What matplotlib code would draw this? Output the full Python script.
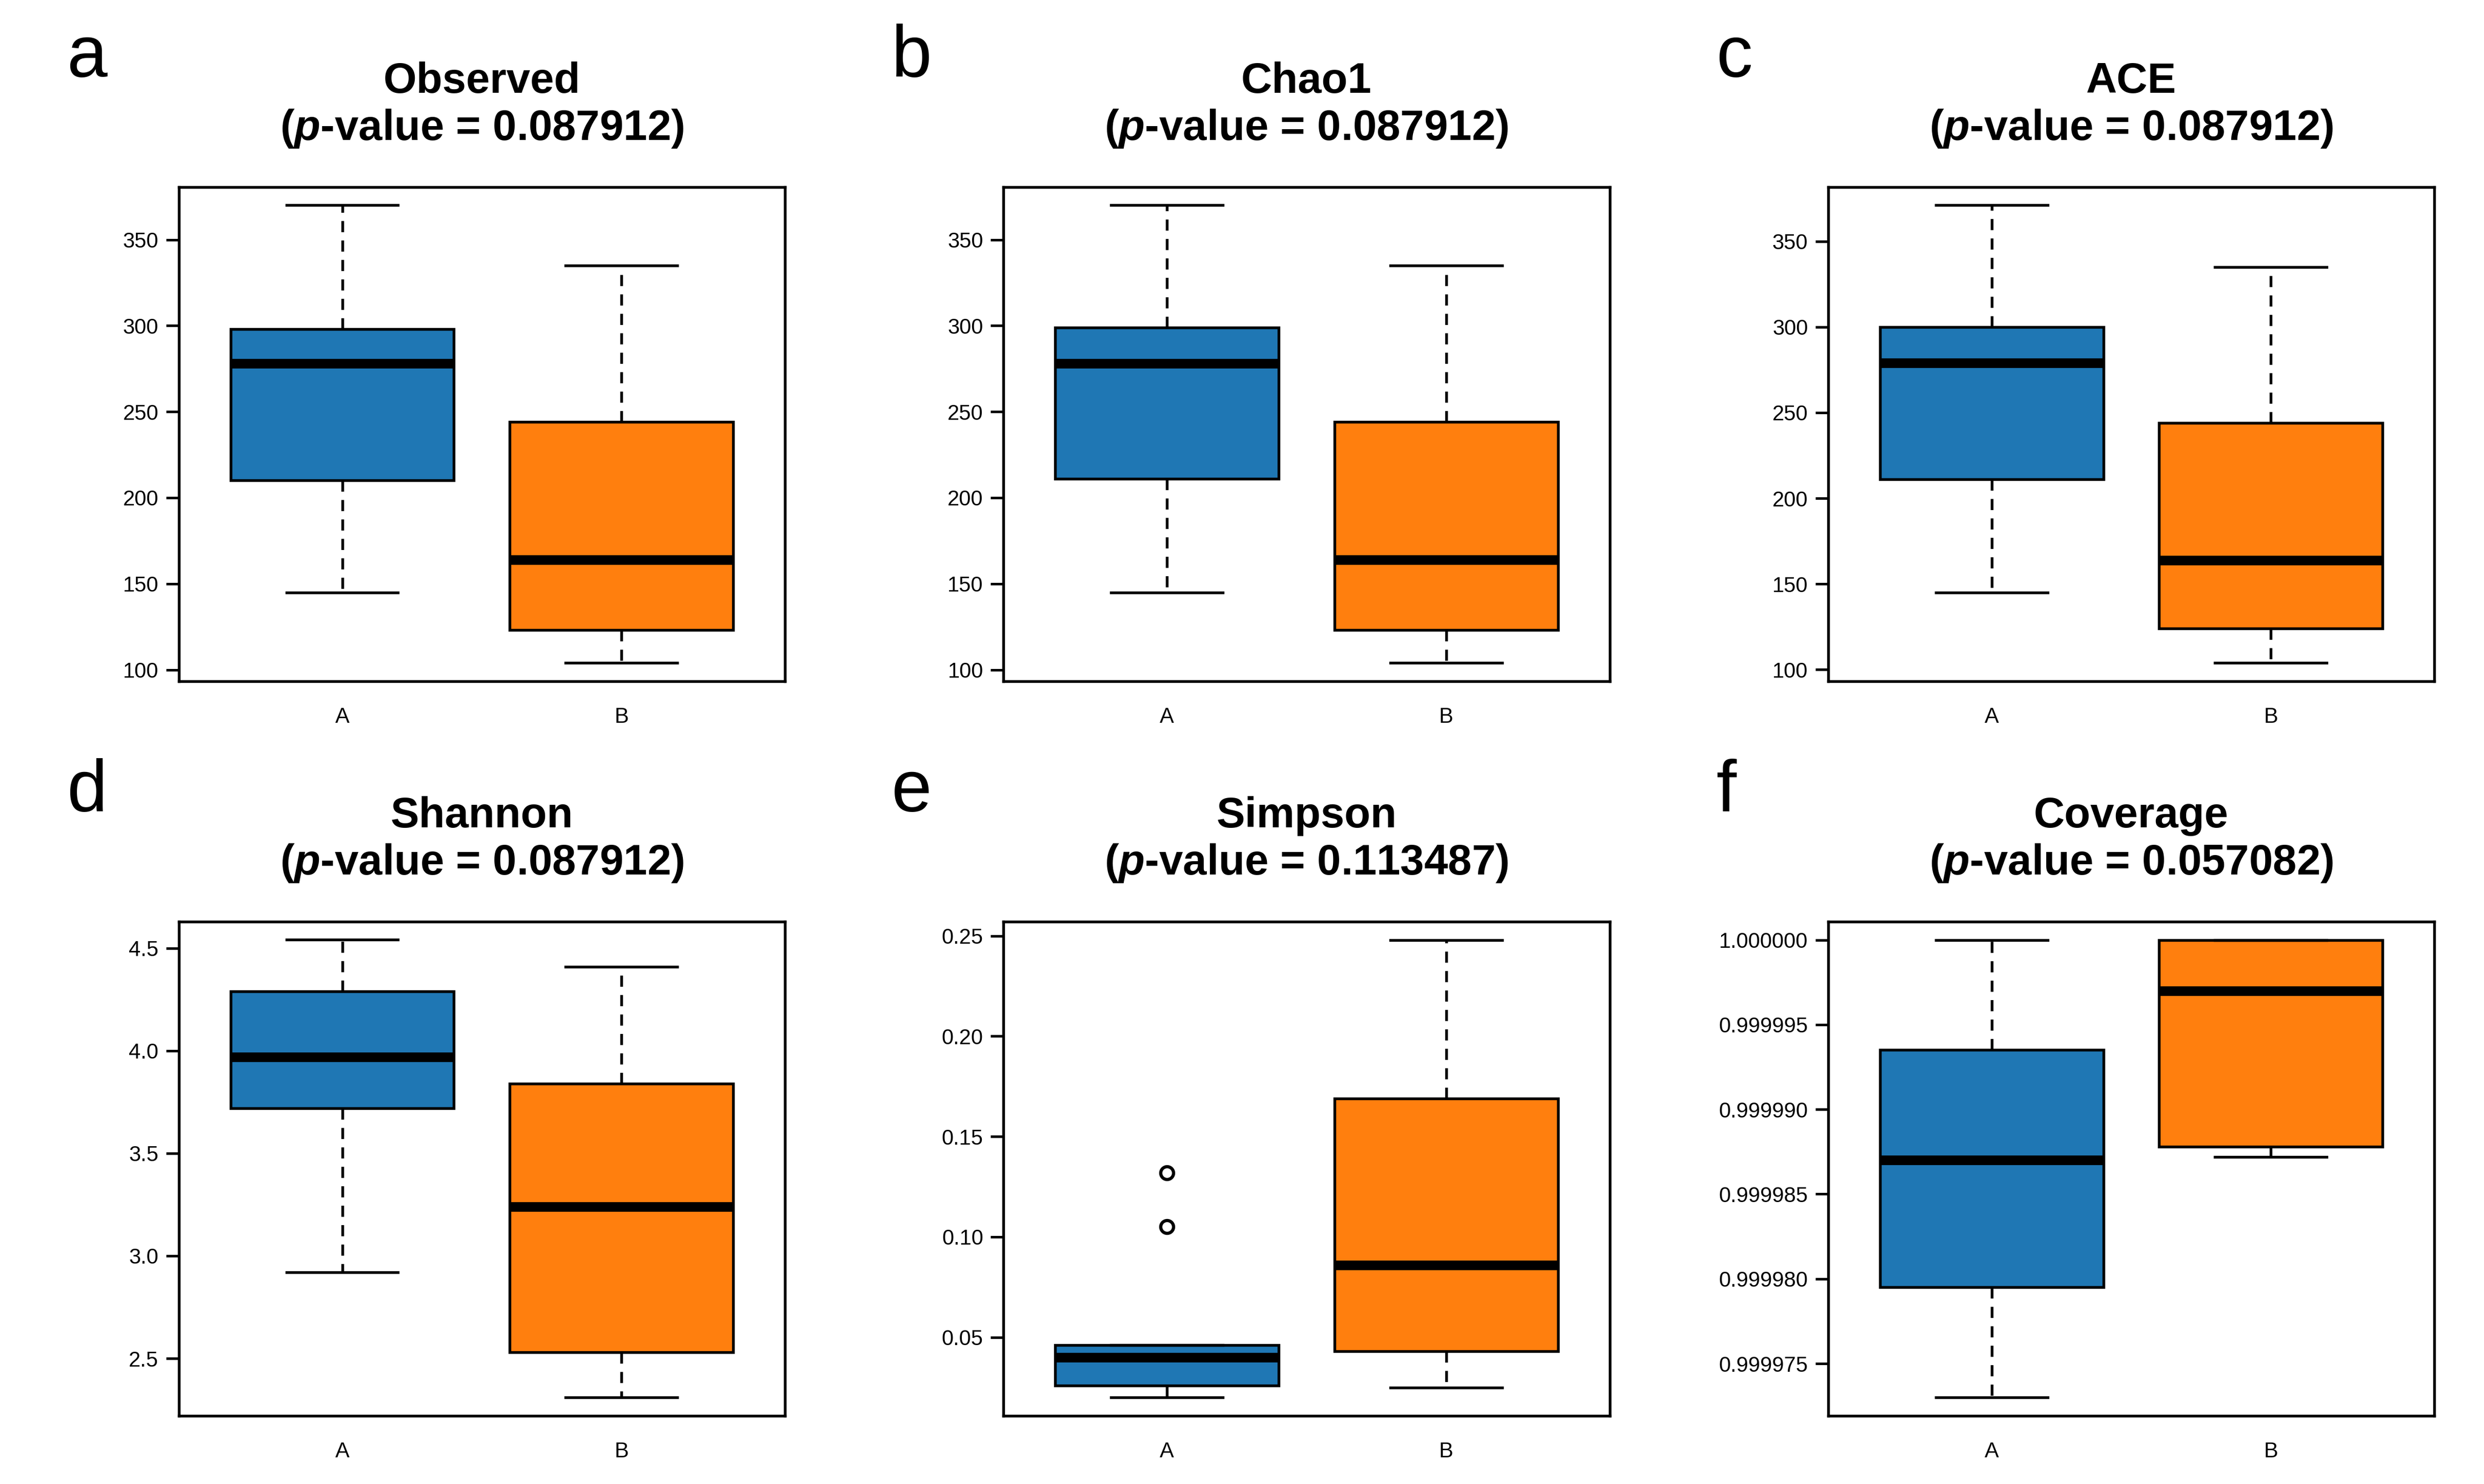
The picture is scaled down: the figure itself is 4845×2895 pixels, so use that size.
import matplotlib.pyplot as plt
import matplotlib.ticker as mticker

plt.rcParams['font.family'] = ['Liberation Sans', 'DejaVu Sans']
plt.rcParams['mathtext.fontset'] = 'custom'
plt.rcParams['mathtext.bf'] = 'Liberation Sans:bold'
plt.rcParams['mathtext.bfit'] = 'Liberation Sans:bold:italic'

groups = ['A', 'B']
colors = ['#1f77b4', '#ff7f0e']
titles = ['Observed', 'Chao1', 'ACE', 'Shannon', 'Simpson', 'Coverage']
letters = ['a', 'b', 'c', 'd', 'e', 'f']
pvalues = ['0.087912', '0.087912', '0.087912', '0.087912', '0.113487', '0.057082']

# whislo, q1, med, q3, whishi per group
observed = [[145, 210, 278, 298, 370], [104, 123, 164, 244, 335]]
chao1 = [[145, 211, 278, 299, 370], [104, 123, 164, 244, 335]]
ace = [[145, 211, 279, 300, 371], [104, 124, 164, 244, 335]]
shannon = [[2.92, 3.72, 3.97, 4.29, 4.54], [2.31, 2.53, 3.24, 3.84, 4.41]]
simpson = [[0.020, 0.026, 0.040, 0.046, 0.046], [0.025, 0.043, 0.086, 0.169, 0.248]]
coverage = [[0.999973, 0.9999795, 0.999987, 0.9999935, 1.0],
            [0.9999872, 0.9999878, 0.999997, 1.0, 1.0]]
fliers = [[[], []], [[], []], [[], []], [[], []], [[0.105, 0.132], []], [[], []]]

all_data = [observed, chao1, ace, shannon, simpson, coverage]
yticks = [[100, 150, 200, 250, 300, 350]] * 3 + [
    [2.5, 3.0, 3.5, 4.0, 4.5],
    [0.05, 0.10, 0.15, 0.20, 0.25],
    [0.999975, 0.999980, 0.999985, 0.999990, 0.999995, 1.0]]
fmts = ['%d'] * 3 + ['%.1f', '%.2f', '%.6f']

fig = plt.figure(figsize=(16.15, 9.65), dpi=300)
lefts = [0.072, 0.404, 0.736]
bottoms = [0.541, 0.046]

for i, data in enumerate(all_data):
    r, c = divmod(i, 3)
    ax = fig.add_axes([lefts[c], bottoms[r], 0.244, 0.333])
    stats = []
    for g, s in enumerate(data):
        stats.append(dict(whislo=s[0], q1=s[1], med=s[2], q3=s[3], whishi=s[4],
                          fliers=fliers[i][g], label=groups[g]))
    bp = ax.bxp(stats, positions=[1, 2], widths=0.8, patch_artist=True,
                boxprops=dict(linewidth=1.3, edgecolor='black'),
                medianprops=dict(color='black', linewidth=4.5, solid_capstyle='butt'),
                whiskerprops=dict(linestyle=(0, (4, 3)), linewidth=1.3),
                capprops=dict(linewidth=1.3),
                capwidths=0.4,
                flierprops=dict(marker='o', markerfacecolor='white',
                                markeredgecolor='black', markersize=6, markeredgewidth=1.5))
    for patch, col in zip(bp['boxes'], colors):
        patch.set_facecolor(col)
    lo = min(min(s[0] for s in data), min([min(f) for f in fliers[i] if f] or [1e9]))
    hi = max(max(s[4] for s in data), max([max(f) for f in fliers[i] if f] or [-1e9]))
    pad = (hi - lo) * 0.04
    ax.set_ylim(lo - pad, hi + pad)
    ax.set_xlim(0.415, 2.585)
    ax.set_yticks(yticks[i])
    ax.yaxis.set_major_formatter(mticker.FormatStrFormatter(fmts[i]))
    ax.tick_params(labelsize=10, width=1.2, length=6)
    ax.tick_params(axis='x', length=0, pad=12)
    for sp in ax.spines.values():
        sp.set_linewidth(1.3)
    ax.set_title(titles[i] + '\n(' + r'$\mathbfit{p}$' + '-value = ' + pvalues[i] + ')',
                 fontsize=20, fontweight='bold', pad=22, linespacing=1.2)
    fig.text(lefts[c] - 0.045, bottoms[r] + 0.42, letters[i], fontsize=34,
             ha='left', va='center')

fig.savefig('out.png', dpi=300)
